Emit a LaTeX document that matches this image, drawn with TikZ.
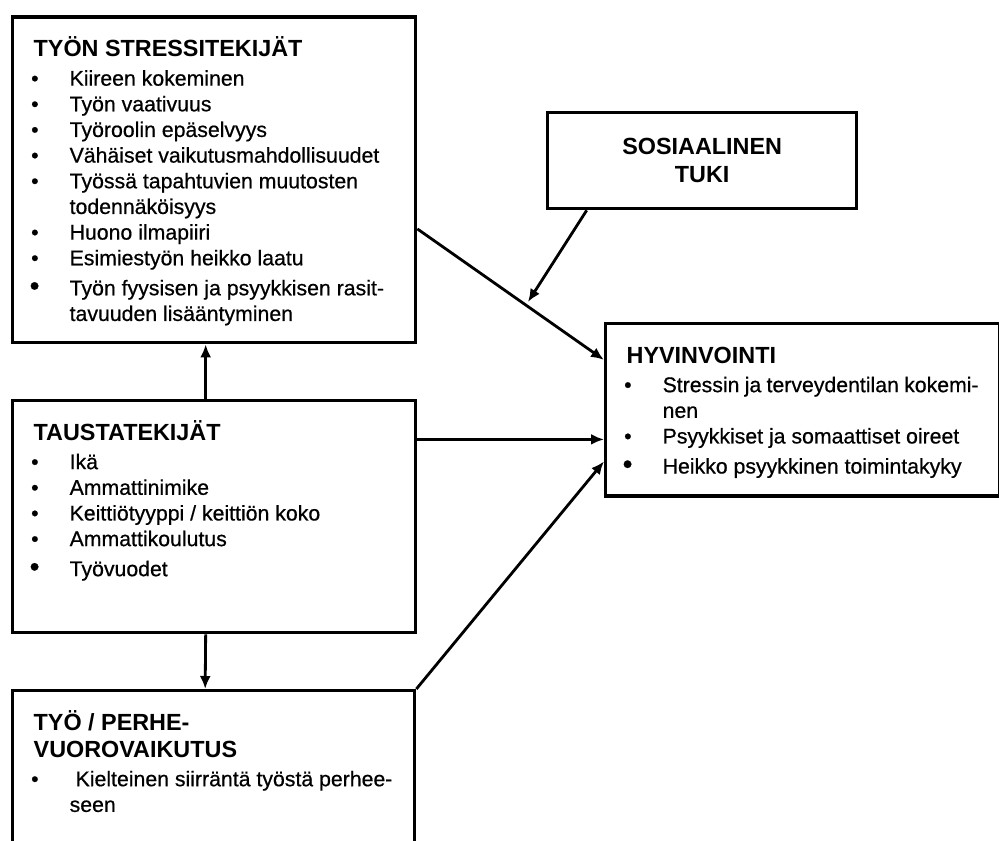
\documentclass[tikz,border=0pt]{standalone}
\usepackage{fontspec}
\setmainfont{Liberation Sans}[UprightFeatures={FakeBold=0.6}]
\usetikzlibrary{arrows.meta}

\newcommand{\otsikko}[1]{{\fontsize{13.3}{15.4}\selectfont\bfseries #1\par}\vspace{1.9pt}}
\newcommand{\kohta}[1]{\par\hangindent=0.72cm\hangafter=1\noindent\makebox[0.72cm][l]{\hspace{-0.05cm}\textbullet}#1}
\newcommand{\isokohta}[1]{\par\vspace{2.5pt}\hangindent=0.72cm\hangafter=1\noindent\makebox[0.72cm][l]{\hspace{-0.08cm}{\fontsize{16}{14}\selectfont\textbullet}}#1}

\begin{document}
\begin{tikzpicture}[>={Latex[length=2.6mm, width=2.2mm]}, x=1cm, y=1cm]

\tikzstyle{box}=[draw, line width=1.9pt, anchor=north west, inner xsep=0.42cm, inner ysep=0pt, text height=0.79cm, font=\fontsize{12.1}{14.6}\selectfont]
\tikzstyle{pil}=[->, line width=1.6pt]

\useasboundingbox (0,0) rectangle (19.98,16.8);
\clip (0,0) rectangle (19.98,16.8);

% --- left column ---
\node[box, text depth=5.72cm] (stress) at (0.22,16.49) {\parbox[t]{7.22cm}{\raggedright
  \otsikko{TYÖN STRESSITEKIJÄT}
  \kohta{Kiireen kokeminen}
  \kohta{Työn vaativuus}
  \kohta{Työroolin epäselvyys}
  \kohta{Vähäiset vaikutusmahdollisuudet}
  \kohta{Työssä tapahtuvien muutosten\newline todennäköisyys}
  \kohta{Huono ilmapiiri}
  \kohta{Esimiestyön heikko laatu}
  \isokohta{Työn fyysisen ja psyykkisen rasit-\newline tavuuden lisääntyminen}}};

\node[box, text depth=3.85cm] (tausta) at (0.22,8.82) {\parbox[t]{7.22cm}{\raggedright
  \otsikko{TAUSTATEKIJÄT}
  \kohta{Ikä}
  \kohta{Ammattinimike}
  \kohta{Keittiötyyppi / keittiön koko}
  \kohta{Ammattikoulutus}
  \isokohta{Työvuodet}}};

\node[box, text depth=2.52cm] (tyo) at (0.22,3.02) {\parbox[t]{7.2cm}{\raggedright
  \otsikko{TYÖ / PERHE-\\VUOROVAIKUTUS}
  \kohta{\hspace{0.12cm}Kielteinen siirräntä työstä perhee-\newline seen}}};

% --- right column ---
\node[draw, line width=1.9pt, anchor=north west, minimum width=6.18cm, minimum height=1.92cm, inner sep=0pt, align=center, font=\fontsize{13.3}{15.9}\selectfont\bfseries] (tuki) at (10.92,14.58) {SOSIAALINEN\\TUKI};

\node[box, text depth=2.66cm] (hyvin) at (12.08,10.36) {\parbox[t]{7.04cm}{\raggedright
  \otsikko{HYVINVOINTI}
  \kohta{Stressin ja terveydentilan kokemi-\newline nen}
  \kohta{Psyykkiset ja somaattiset oireet}
  \isokohta{Heikko psyykkinen toimintakyky}}};

% --- arrows ---
\coordinate (tukiend) at (10.56,10.76);
\draw[pil] ([xshift=-0.17cm]tausta.north) -- ([xshift=-0.17cm]stress.south);
\draw[pil] ([xshift=-0.17cm]tausta.south) -- ([xshift=-0.17cm]tyo.north);
\draw[pil] ([yshift=-0.59cm]hyvin.west -| tausta.east) -- ([yshift=-0.59cm]hyvin.west);
\draw[pil] ([yshift=-0.98cm]stress.east) -- ([yshift=1.0cm]hyvin.west);
\draw[pil] ([xshift=-2.31cm]tuki.south) -- (tukiend);
\draw[pil] (tyo.north east) -- ([yshift=-1.03cm]hyvin.west);

\end{tikzpicture}
\end{document}
